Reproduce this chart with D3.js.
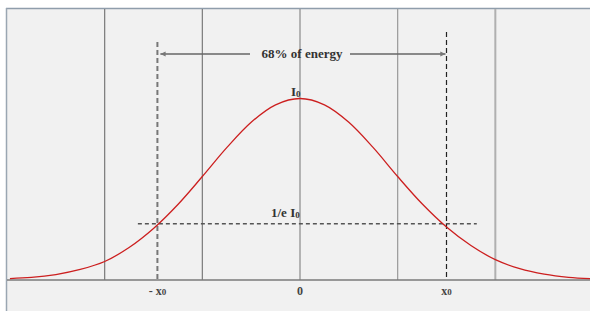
<!DOCTYPE html>
<html lang="en">
<head>
    <meta charset="UTF-8">
    <title>Gaussian beam profile</title>
    <script src="https://d3js.org/d3.v7.min.js"></script>
    <style>
        body {
            margin: 0;
            background-color: #fff;
        }
        svg {
            display: block;
        }
        text {
            font-family: "Liberation Serif", "Times New Roman", serif;
            font-weight: bold;
            fill: #333;
        }
    </style>
</head>
<body>
    <svg width="590" height="311"></svg>
    <script>
        // positions in units of the grid spacing
        const gridLines = [-2, -1, 0, 1, 2];
        const x0Left = -1.46;
        const x0Right = 1.5;
        const levelE = 0.31; // where the 1/e line sits relative to the peak

        // curve (x in grid units, relative intensity)
        const curveX = [-2.97, -2.75, -2.5, -2.25, -2, -1.75, -1.5, -1.25, -1, -0.75, -0.5, -0.25, 0,
                        0.25, 0.5, 0.75, 1, 1.25, 1.5, 1.75, 2, 2.25, 2.5, 2.75, 2.97];
        const curveY = [0.008, 0.014, 0.030, 0.058, 0.102, 0.179, 0.284, 0.416, 0.570, 0.729, 0.869, 0.965, 1,
                        0.965, 0.869, 0.729, 0.570, 0.420, 0.292, 0.190, 0.112, 0.062, 0.032, 0.015, 0.008];

        const tickLabels = [
            { x: x0Left, label: "- x", sub: "0" },
            { x: 0, label: "0", sub: "" },
            { x: x0Right, label: "x", sub: "0" }
        ];

        const svg = d3.select("svg");

        const x = d3.scaleLinear().domain([-3, 3]).range([7, 593]);
        const y = d3.scaleLinear().domain([0, 1]).range([280, 98.5]);

        // panel
        svg.append("rect")
            .attr("x", 7).attr("y", 8.5)
            .attr("width", 590).attr("height", 311)
            .attr("fill", "#f1f1f1");
        svg.append("line")
            .attr("x1", 6).attr("x2", 590).attr("y1", 8.5).attr("y2", 8.5)
            .attr("stroke", "#8f9dab").attr("stroke-width", 1.5);
        svg.append("line")
            .attr("x1", 6.5).attr("x2", 6.5).attr("y1", 8).attr("y2", 311)
            .attr("stroke", "#9aa6b2").attr("stroke-width", 1.5);

        // grid lines
        const gridColor = { "-2": "#7a7a7a", "-1": "#7a7a7a", "0": "#8a8a8a", "1": "#9a9a9a", "2": "#b0b0b0" };
        svg.append("g")
            .selectAll("line")
            .data(gridLines)
            .enter().append("line")
            .attr("x1", d => x(d)).attr("x2", d => x(d))
            .attr("y1", 9).attr("y2", 280)
            .attr("stroke", d => gridColor[d])
            .attr("stroke-width", d => d === 2 ? 2 : 1.2);

        // baseline
        svg.append("line")
            .attr("x1", 7).attr("x2", 590)
            .attr("y1", 280).attr("y2", 280)
            .attr("stroke", "#7a7a7a").attr("stroke-width", 1.5);

        // 1/e dashed line
        svg.append("line")
            .attr("x1", x(-1.66)).attr("x2", x(1.81))
            .attr("y1", y(levelE)).attr("y2", y(levelE))
            .attr("stroke", "#555").attr("stroke-width", 1.5)
            .attr("stroke-dasharray", "4,3");

        // x0 dashed verticals
        svg.append("line")
            .attr("x1", x(x0Left)).attr("x2", x(x0Left))
            .attr("y1", 42).attr("y2", 280)
            .attr("stroke", "#777").attr("stroke-width", 2)
            .attr("stroke-dasharray", "5,3");
        svg.append("line")
            .attr("x1", x(x0Right)).attr("x2", x(x0Right))
            .attr("y1", 32).attr("y2", 280)
            .attr("stroke", "#222").attr("stroke-width", 1.2)
            .attr("stroke-dasharray", "5,3");

        // gaussian curve
        const pts = curveX.map((d, i) => [d, curveY[i]]);
        svg.append("path")
            .datum(pts)
            .attr("fill", "none")
            .attr("stroke", "#cc1f1f")
            .attr("stroke-width", 1.3)
            .attr("d", d3.line().x(d => x(d[0])).y(d => y(d[1])).curve(d3.curveCatmullRom));

        // arrow "68% of energy"
        const defs = svg.append("defs");
        defs.append("marker")
            .attr("id", "arr")
            .attr("viewBox", "0 0 6 6")
            .attr("refX", 6).attr("refY", 3)
            .attr("markerWidth", 4).attr("markerHeight", 4)
            .attr("orient", "auto-start-reverse")
            .append("path").attr("d", "M0,0L6,3L0,6Z").attr("fill", "#777");

        svg.append("line")
            .attr("x1", 250).attr("x2", x(x0Left) + 3)
            .attr("y1", 54).attr("y2", 54)
            .attr("stroke", "#666").attr("stroke-width", 1.3)
            .attr("marker-end", "url(#arr)");
        svg.append("line")
            .attr("x1", 350).attr("x2", x(x0Right) - 1)
            .attr("y1", 54).attr("y2", 54)
            .attr("stroke", "#666").attr("stroke-width", 1.3)
            .attr("marker-end", "url(#arr)");
        svg.append("text")
            .attr("x", x(0) + 2).attr("y", 58)
            .attr("text-anchor", "middle")
            .style("font-size", "13px")
            .text("68% of energy");

        // I0 labels
        const i0 = svg.append("text")
            .attr("x", 291).attr("y", 96)
            .style("font-size", "13px");
        i0.append("tspan").text("I");
        i0.append("tspan").attr("dy", 1).style("font-size", "9px").text("0");

        const ie = svg.append("text")
            .attr("x", 271).attr("y", 217)
            .style("font-size", "13px");
        ie.append("tspan").text("1/e I");
        ie.append("tspan").attr("dy", 1).style("font-size", "9px").text("0");

        // tick labels
        svg.append("g")
            .selectAll("text")
            .data(tickLabels)
            .enter().append("text")
            .attr("x", d => x(d.x))
            .attr("y", 295)
            .attr("text-anchor", "middle")
            .style("font-size", "12px")
            .style("fill", "#444")
            .each(function(d) {
                const t = d3.select(this);
                t.append("tspan").text(d.label);
                if (d.sub) t.append("tspan").style("font-size", "9px").text(d.sub);
            });
    </script>
</body>
</html>
